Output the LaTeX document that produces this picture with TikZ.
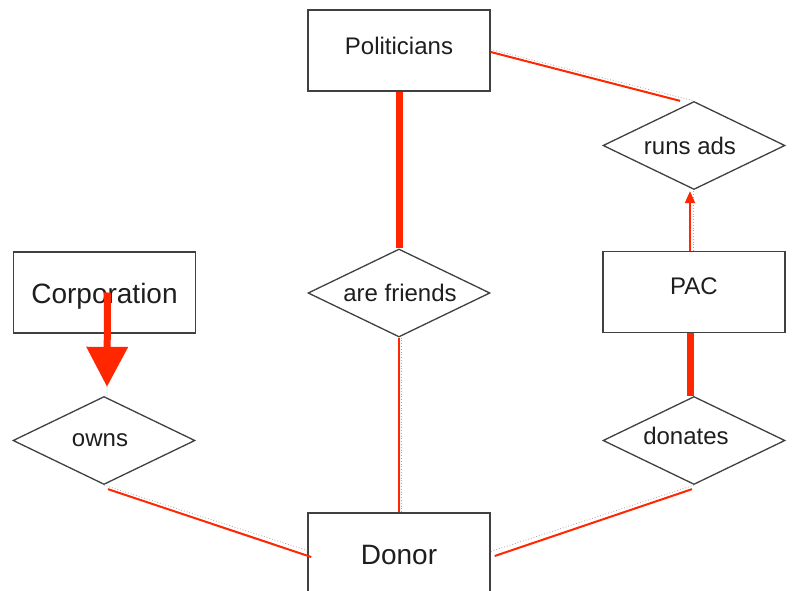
\documentclass[tikz,border=0pt]{standalone}
\usepackage{fontspec}
\setmainfont{Liberation Sans}
\usetikzlibrary{shapes.geometric,arrows.meta}
\definecolor{erred}{RGB}{255,38,0}
\definecolor{erline}{RGB}{64,64,64}
\definecolor{ertext}{RGB}{30,30,30}
\begin{document}
\begin{tikzpicture}[x=1pt,y=-1pt,
 entity/.style={draw=erline,line width=1.4pt,rectangle,minimum width=182pt,minimum height=81pt,inner sep=0pt,text=ertext,font=\fontsize{24}{27}\selectfont},
 bigentity/.style={entity,font=\fontsize{28}{31}\selectfont},
 rel/.style={draw=erline,line width=1.3pt,diamond,minimum width=182pt,minimum height=88pt,inner sep=0pt},
 reltext/.style={inner sep=0pt,text=ertext,font=\fontsize{24}{27}\selectfont},
 redthin/.style={draw=erred,line width=2pt},
 redthick/.style={draw=erred,line width=7pt},
 graydots/.style={draw=gray!70,line width=0.8pt,dotted}]
\useasboundingbox (0,0) rectangle (793,591);
\fill[white] (0,0) rectangle (793,591);
\clip (0,0) rectangle (793,591);

% entities
\node[entity] (pol) at (399,50.5) {\raisebox{5pt}[\height][\depth]{Politicians}};
\node[entity] (pac) at (694,292) {\raisebox{6pt}[\height][\depth]{PAC}};
\node[bigentity] (corp) at (104.5,292.5) {\raisebox{-4pt}[\height][\depth]{Corporation}};
\node[bigentity] (donor) at (399,553.5) {\raisebox{-2pt}[\height][\depth]{Donor}};

% relationships
\node[rel] (ra) at (694,145.5) {};
\node[rel] (af) at (399,293) {};
\node[rel] (own) at (104,440.5) {};
\node[rel] (don) at (694,440.5) {};
\node[reltext] (ratext) at (690,146) {runs ads};
\node[reltext] (aftext) at (400,293) {are friends};
\node[reltext] (owntext) at (100,440) {owns};
\node[reltext] (dontext) at (686,436) {donates};

% gray dotted guides
\draw[graydots] ([yshift=1pt]pol.east) -- (ra.north);
\draw[graydots] ([xshift=-1pt]pac.north) -- ([xshift=-1pt]ra.south);
\draw[graydots] ([xshift=3pt]corp.south) -- ([xshift=3pt]own.north);
\draw[graydots] ([xshift=2pt]af.south) -- ([xshift=2pt]donor.north);
\draw[graydots] (own.south) -- ([yshift=3pt]donor.west);
\draw[graydots] (don.south) -- ([yshift=2pt]donor.east);

% red connectors
\draw[redthin] ([yshift=-1.5pt]pol.east) -- ([xshift=-14pt]ra.north);
\draw[redthin,-{Triangle[width=10pt,length=12pt]}] ([xshift=-4pt]pac.north) -- ([xshift=-4pt,yshift=-1pt]ra.south);
\draw[redthick,-{Triangle[width=40pt,length=40pt]}] ([xshift=3pt]corp.center) -- ([xshift=3pt,yshift=9pt]own.north);
\draw[redthick] (pol.south) -- (af.north);
\draw[redthin] (af.south) -- (donor.north);
\draw[redthick] ([xshift=-4pt]pac.south) -- ([xshift=-4pt]don.north);
\draw[redthin] ([xshift=4pt,yshift=-4pt]own.south) -- ([xshift=4pt,yshift=-3.5pt]donor.west);
\draw[redthin] ([xshift=-2pt,yshift=-4pt]don.south) -- ([xshift=4pt,yshift=-2.5pt]donor.east);
\end{tikzpicture}
\end{document}
